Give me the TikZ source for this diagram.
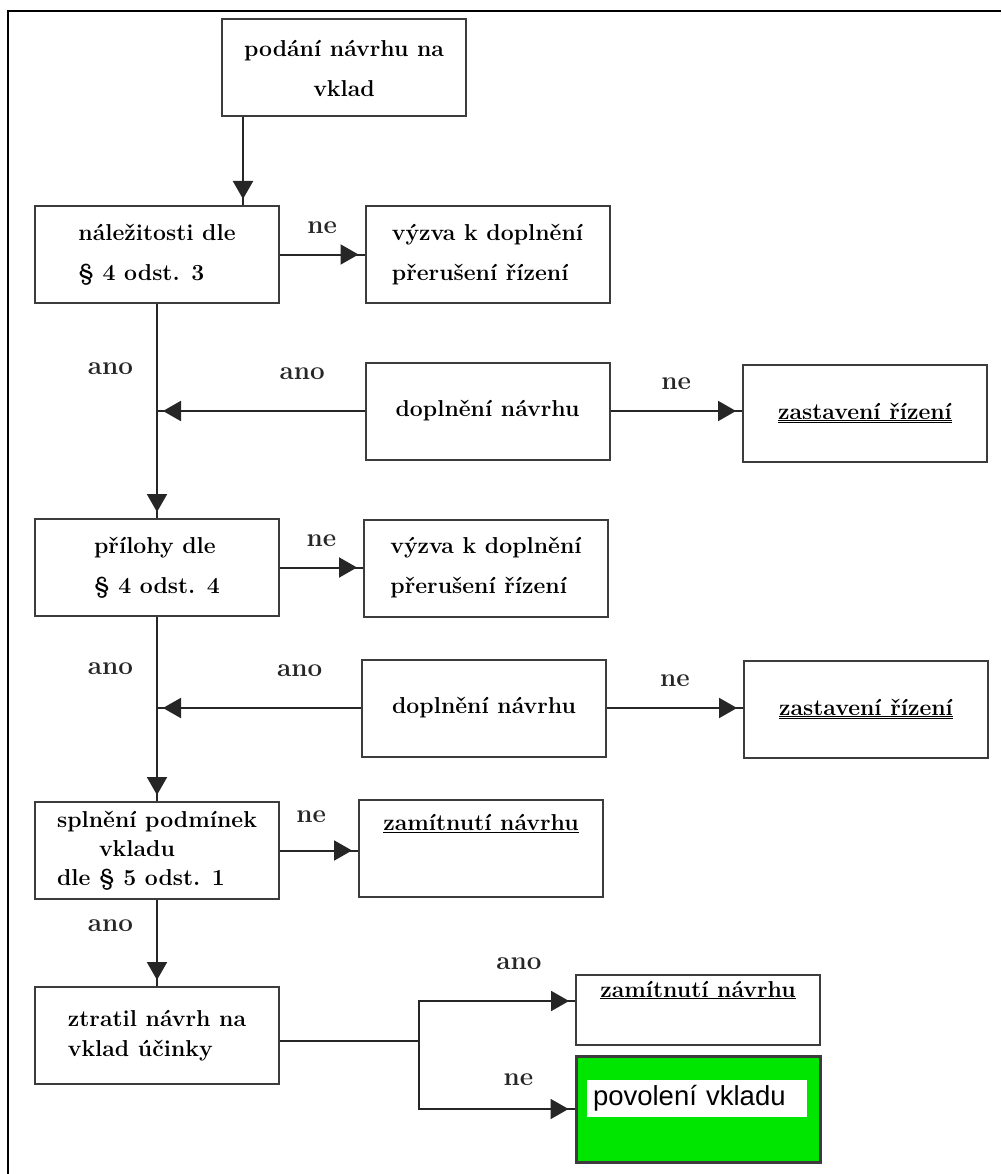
\documentclass[tikz,border=0pt]{standalone}
\usepackage{fontspec}
\newfontfamily\arialfont{Liberation Sans}
\usetikzlibrary{arrows.meta,decorations.markings}
\definecolor{zelena}{RGB}{0,230,0}
\definecolor{okraj}{RGB}{60,60,60}

\begin{document}
\begin{tikzpicture}[x=1pt, y=-1pt,
    blok/.style={draw=okraj, line width=2pt, minimum width=244pt, minimum height=97pt,
      inner sep=0pt, align=left, font=\fontsize{23}{40}\selectfont\bfseries},
    cara/.style={line width=2pt, black!85},
    sipka/.style={cara, postaction={decorate}, decoration={markings,
      mark=at position -6pt with {\arrow{Triangle[length=18pt,width=20pt]}}}},
    popis/.style={font=\fontsize{26}{30}\selectfont\bfseries, inner sep=0pt}]
    \useasboundingbox (0,0) rectangle (1001,1174);

    % Ramecek
    \draw[line width=2pt] (1001,11) -- (7.5,11) -- (7.5,1174);

    % Bloky
    \node[blok, align=center] (podani) at (344,68) {podání návrhu na\\vklad};
    \node[blok] (nalez) at (157,254.5) {náležitosti dle\\§ 4 odst. 3};
    \node[blok] (vyzva1) at (487.5,254.5) {výzva k doplnění\\přerušení řízení};
    \node[blok, align=center] (dopl1) at (487.5,411) {doplnění návrhu};
    \node[blok, align=center] (zast1) at (865,413) {\underline{\underline{zastavení řízení}}};
    \node[blok] (prilohy) at (157,567.5) {přílohy dle\\§ 4 odst. 4};
    \node[blok] (vyzva2) at (486,568) {výzva k doplnění\\přerušení řízení};
    \node[blok, align=center] (dopl2) at (484,708) {doplnění návrhu};
    \node[blok, align=center] (zast2) at (866,709) {\underline{\underline{zastavení řízení}}};
    \node[blok, font=\fontsize{23}{29}\selectfont\bfseries] (splneni) at (157,850.5)
      {splnění podmínek\\\hspace*{42pt}vkladu\\dle § 5 odst. 1};
    \node[blok] (zamit1) at (481,848.5) {\underline{zamítnutí návrhu}\\\strut};
    \node[blok, font=\fontsize{23}{30}\selectfont\bfseries] (ztratil) at (157,1035.5)
      {ztratil návrh na\\vklad účinky};
    \node[blok, minimum height=70pt] (zamit2) at (698,1010) {\underline{zamítnutí návrhu}\\[-10pt]\strut};
    \node[blok, fill=zelena, line width=3pt, minimum height=106pt] (povoleni) at (698,1109) {};
    \node[fill=white, text width=208pt, minimum height=37pt, inner sep=6pt, align=left,
      font=\arialfont\fontsize{27.5}{30}\selectfont] (povtext) at (697,1098.5) {povolení vkladu};

    % Spojnice
    \coordinate (p0) at ([xshift=22pt]podani.south west);
    \draw[sipka] (p0) -- (p0 |- nalez.north);
    \draw[sipka] (nalez) -- (vyzva1) node[popis, midway, above=20pt] (ne1) {ne};
    \draw[sipka] (nalez) -- (prilohy) node[popis, pos=0.3, left=23pt] (ano1) {ano};
    \draw[sipka] (dopl1.west) -- (dopl1.west -| nalez.south) node[popis, pos=0.3, above=30pt] (ano2) {ano};
    \draw[sipka] (dopl1.east) -- (dopl1.east -| zast1.west) node[popis, midway, above=20pt] (ne2) {ne};

    \draw[sipka] (prilohy.east) -- (prilohy.east -| vyzva2.west) node[popis, midway, above=20pt] (ne3) {ne};
    \draw[sipka] (prilohy) -- (splneni) node[popis, pos=0.28, left=23pt] (ano3) {ano};
    \draw[sipka] (dopl2.west) -- (dopl2.west -| prilohy.south) node[popis, pos=0.3, above=30pt] (ano4) {ano};
    \draw[sipka] (dopl2.east) -- (dopl2.east -| zast2.west) node[popis, midway, above=20pt] (ne4) {ne};

    \draw[sipka] (splneni.east) -- (splneni.east -| zamit1.west) node[popis, pos=0.4, above=27pt] (ne5) {ne};
    \draw[sipka] (splneni) -- (ztratil) node[popis, pos=0.3, left=23pt] (ano5) {ano};

    \coordinate (rozc) at (419,1041);
    \draw[cara] (ztratil.east |- rozc) -- (rozc);
    \draw[sipka] (rozc) |- ([yshift=9pt]zamit2.west) node[popis, pos=0.82, above=30pt] (ano6) {ano};
    \draw[sipka] (rozc) |- (povoleni.west) node[popis, pos=0.82, above=22pt] (ne6) {ne};
\end{tikzpicture}
\end{document}
